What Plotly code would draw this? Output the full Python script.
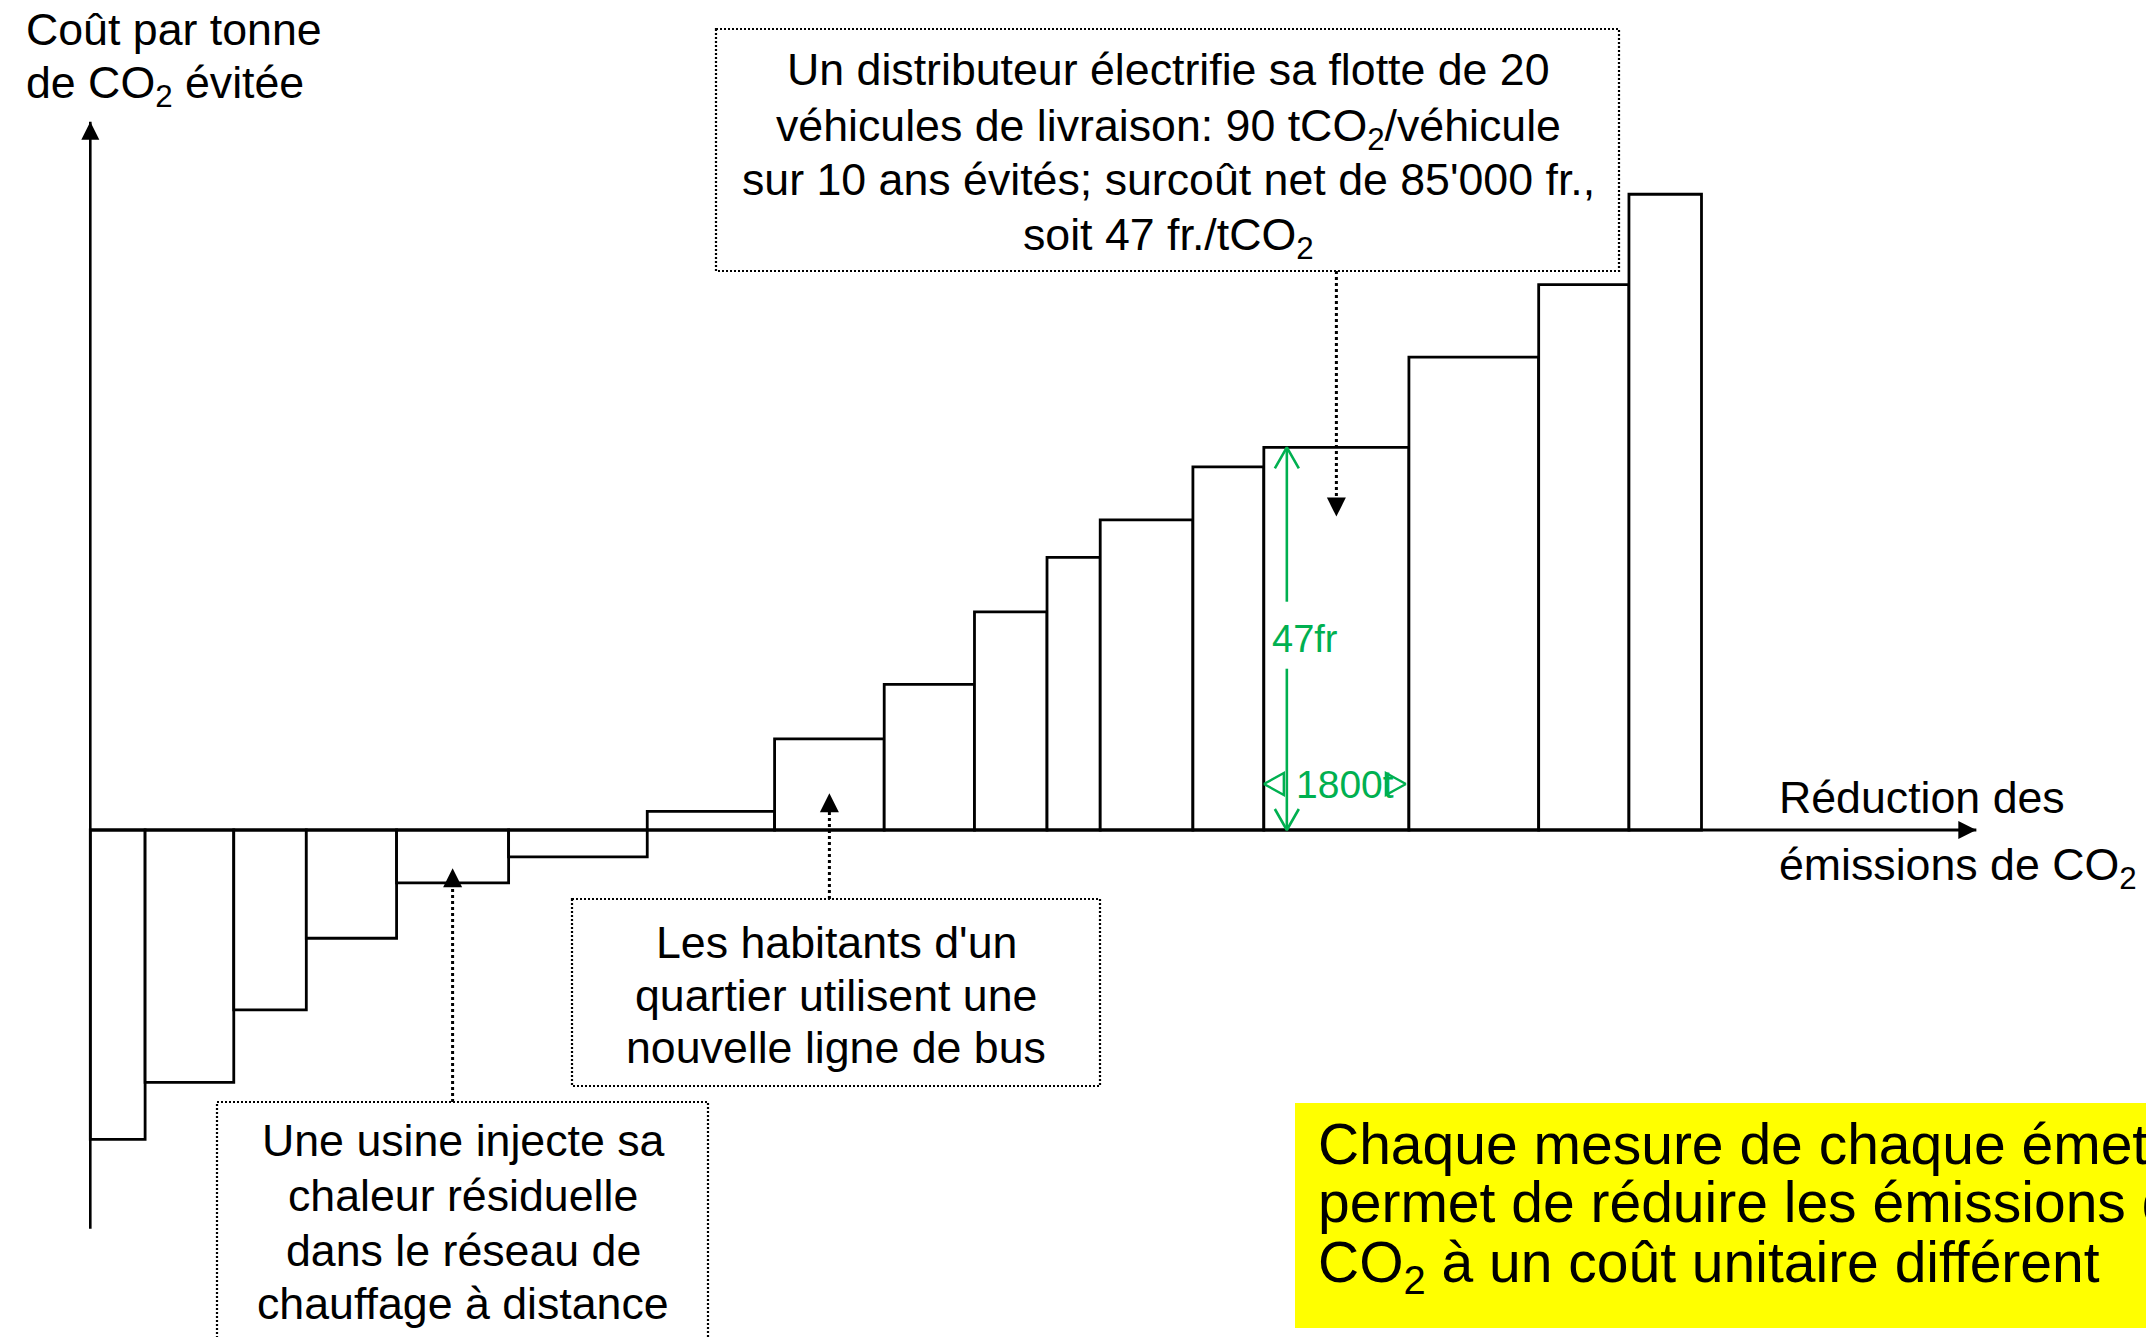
import plotly.graph_objects as go

# Marginal abatement cost curve: each measure's avoided tonnes (bar width)
# and its cost per avoided tonne (bar height), ordered by cost.
tonnes_avoided = [680, 1100, 900, 1120, 1390, 1720, 1580, 1360, 1120,
                  900, 660, 1150, 880, 1800, 1610, 1120, 900]
cost_per_tonne = [-38, -31, -22.1, -13.3, -6.5, -3.3, 2.3, 11.2, 17.9,
                  26.8, 33.5, 38.1, 44.6, 47, 58.1, 67, 78.1]

# Extent of the two axis arrows (data units)
x_axis_end = 23400
y_axis_min = -49
y_axis_max = 87

# Measure highlighted with dimension arrows
highlight_index = 13
highlight_cost_label = "47fr"
highlight_tonnes_label = "1800t"

# Callouts: bar each one points to and the cost level of the arrow tip
callout_bars = [13, 7, 4]
callout_tips = [38.5, 4.5, -4.7]
callout_lines = [
    ["Un distributeur électrifie sa flotte de 20",
     "véhicules de livraison: 90 tCO<sub>2</sub>/véhicule",
     "sur 10 ans évités; surcoût net de 85'000 fr.,",
     "soit 47 fr./tCO<sub>2</sub>"],
    ["Les habitants d'un",
     "quartier utilisent une",
     "nouvelle ligne de bus"],
    ["Une usine injecte sa",
     "chaleur résiduelle",
     "dans le réseau de",
     "chauffage à distance"],
]

y_title_lines = ["Coût par tonne", "de CO<sub>2</sub> évitée"]
x_title_lines = ["Réduction des", "émissions de CO<sub>2</sub>"]
message_lines = ["Chaque mesure de chaque émetteur",
                 "permet de réduire les émissions de",
                 "CO<sub>2</sub> à un coût unitaire différent"]

# ---- page geometry (pixels) ----
W, H = 2146, 1337
ORIGIN_X, ORIGIN_Y = 90.3, 830.0      # pixel position of the axes origin
PX_PER_T = 0.0806                     # horizontal pixels per tonne
PX_PER_FR = 8.14                      # vertical pixels per franc
FONT = "Liberation Sans, Arial, sans-serif"
TEXT_SIZE = 44.7
GREEN = "#00B050"
SUB_SHIFT = 4                         # lines holding a subscript sit a bit lower


def px_to_x(px):
    return (px - ORIGIN_X) / PX_PER_T


def py_to_y(py):
    return (ORIGIN_Y - py) / PX_PER_FR


def paper(px, py):
    return px / W, 1 - py / H


def line_y(txt, cy):
    return cy + (SUB_SHIFT if "<sub>" in txt else 0)


edges = [0]
for w in tonnes_avoided:
    edges.append(edges[-1] + w)
centers = [(a + b) / 2 for a, b in zip(edges[:-1], edges[1:])]

fig = go.Figure()

# bars
fig.add_trace(go.Bar(
    x=centers, y=cost_per_tonne, width=tonnes_avoided,
    marker=dict(color="white", line=dict(color="black", width=2.8)),
    hoverinfo="skip",
))

# axes with arrowheads
fig.add_trace(go.Scatter(
    x=[0, x_axis_end], y=[0, 0], mode="lines",
    line=dict(color="black", width=3), hoverinfo="skip"))
fig.add_trace(go.Scatter(
    x=[0, 0], y=[y_axis_min, y_axis_max], mode="lines",
    line=dict(color="black", width=2.6), hoverinfo="skip"))
fig.add_trace(go.Scatter(
    x=[x_axis_end, 0], y=[0, y_axis_max], mode="markers",
    marker=dict(symbol=["arrow-right", "arrow-up"], size=18, color="black",
                line=dict(width=0)),
    hoverinfo="skip", cliponaxis=False))

# dimension arrows on the highlighted measure
hl_left = edges[highlight_index]
hl_right = edges[highlight_index + 1]
hl_top = cost_per_tonne[highlight_index]
vx = hl_left + 23 / PX_PER_T
mid = hl_top / 2
hdx = 12 / PX_PER_T
hdy = 21 / PX_PER_FR
fig.add_trace(go.Scatter(
    x=[vx, vx, None, vx, vx,
       None, vx - hdx, vx, vx + hdx,
       None, vx - hdx, vx, vx + hdx],
    y=[hl_top, mid + 37 / PX_PER_FR, None, mid - 30 / PX_PER_FR, 0,
       None, hl_top - hdy, hl_top, hl_top - hdy,
       None, hdy, 0, hdy],
    mode="lines", line=dict(color=GREEN, width=2.6), hoverinfo="skip"))

hy = 46 / PX_PER_FR
tdx = 20 / PX_PER_T
tdy = 11 / PX_PER_FR
rt = hl_right - 3 / PX_PER_T
fig.add_trace(go.Scatter(
    x=[hl_left, hl_left + tdx, hl_left + tdx, hl_left,
       None, rt, rt - tdx, rt - tdx, rt],
    y=[hy, hy + tdy, hy - tdy, hy,
       None, hy, hy + tdy, hy - tdy, hy],
    mode="lines", line=dict(color=GREEN, width=2.4), hoverinfo="skip"))

fig.add_annotation(x=vx + 18 / PX_PER_T, y=mid, xref="x", yref="y",
                   text=highlight_cost_label, showarrow=False,
                   xanchor="center", yanchor="middle",
                   font=dict(family=FONT, size=38, color=GREEN))
fig.add_annotation(x=(hl_left + hl_right) / 2 + 9 / PX_PER_T, y=hy,
                   xref="x", yref="y",
                   text=highlight_tonnes_label, showarrow=False,
                   xanchor="center", yanchor="middle",
                   font=dict(family=FONT, size=39, color=GREEN))

# callout boxes: rectangle (px), centre x of text, centre y of each line
box_rects = [(716, 29, 1619, 271), (572, 899, 1100, 1086), (217, 1102, 708, 1345)]
box_text_cx = [1168, 836, 463]
box_line_cy = [[70, 125, 179, 234], [942, 995, 1047], [1140, 1195, 1250, 1303]]
pointer_start = [271, 899, 1102]

for rect, cx, cys, lines in zip(box_rects, box_text_cx, box_line_cy, callout_lines):
    x0, y0 = paper(rect[0], rect[1])
    x1, y1 = paper(rect[2], rect[3])
    fig.add_shape(type="rect", xref="paper", yref="paper",
                  x0=x0, y0=y0, x1=x1, y1=y1,
                  line=dict(color="black", width=2.2, dash="2px,2px"),
                  fillcolor="rgba(0,0,0,0)")
    for txt, cy in zip(lines, cys):
        ax, ay = paper(cx, line_y(txt, cy))
        fig.add_annotation(x=ax, y=ay, xref="paper", yref="paper", text=txt,
                           showarrow=False, xanchor="center", yanchor="middle",
                           font=dict(family=FONT, size=TEXT_SIZE, color="black"))

# dotted pointers from the callouts to their bars
for bar, tip, start in zip(callout_bars, callout_tips, pointer_start):
    bx = centers[bar]
    start_y = py_to_y(start)
    down = start_y > tip
    fig.add_trace(go.Scatter(
        x=[bx, bx], y=[start_y, tip + (14 if down else -14) / PX_PER_FR],
        mode="lines", line=dict(color="black", width=3, dash="dot"),
        hoverinfo="skip"))
    fig.add_trace(go.Scatter(
        x=[bx], y=[tip], mode="markers",
        marker=dict(symbol="arrow-down" if down else "arrow-up", size=19,
                    color="black", line=dict(width=0)),
        hoverinfo="skip"))

# axis titles
for txt, cy in zip(y_title_lines, [30, 82]):
    ax, ay = paper(24, line_y(txt, cy))
    fig.add_annotation(x=ax, y=ay, xref="paper", yref="paper", text=txt,
                       showarrow=False, xanchor="left", yanchor="middle",
                       font=dict(family=FONT, size=TEXT_SIZE, color="black"))
for txt, cy in zip(x_title_lines, [797, 864]):
    ax, ay = paper(1777, line_y(txt, cy))
    fig.add_annotation(x=ax, y=ay, xref="paper", yref="paper", text=txt,
                       showarrow=False, xanchor="left", yanchor="middle",
                       font=dict(family=FONT, size=TEXT_SIZE, color="black"))

# highlighted message, running past the right edge of the page
mx0, my0 = paper(1295, 1103)
mx1, my1 = paper(W, 1328)
fig.add_shape(type="rect", xref="paper", yref="paper", layer="below",
              x0=mx0, y0=my0, x1=mx1, y1=my1,
              line=dict(width=0), fillcolor="#FFFF00")
for txt, cy in zip(message_lines, [1144, 1202, 1262]):
    ax, ay = paper(1316, line_y(txt, cy))
    fig.add_annotation(x=ax, y=ay, xref="paper", yref="paper", text=txt,
                       showarrow=False, xanchor="left", yanchor="middle",
                       font=dict(family=FONT, size=57, color="black"))

fig.update_layout(
    width=W, height=H,
    margin=dict(l=0, r=0, t=0, b=0, pad=0),
    paper_bgcolor="white", plot_bgcolor="white",
    showlegend=False, hovermode=False,
    xaxis=dict(range=[px_to_x(0), px_to_x(W)], visible=False, fixedrange=True),
    yaxis=dict(range=[py_to_y(H), py_to_y(0)], visible=False, fixedrange=True),
)

fig.write_html("out.html", config={"displayModeBar": False})
